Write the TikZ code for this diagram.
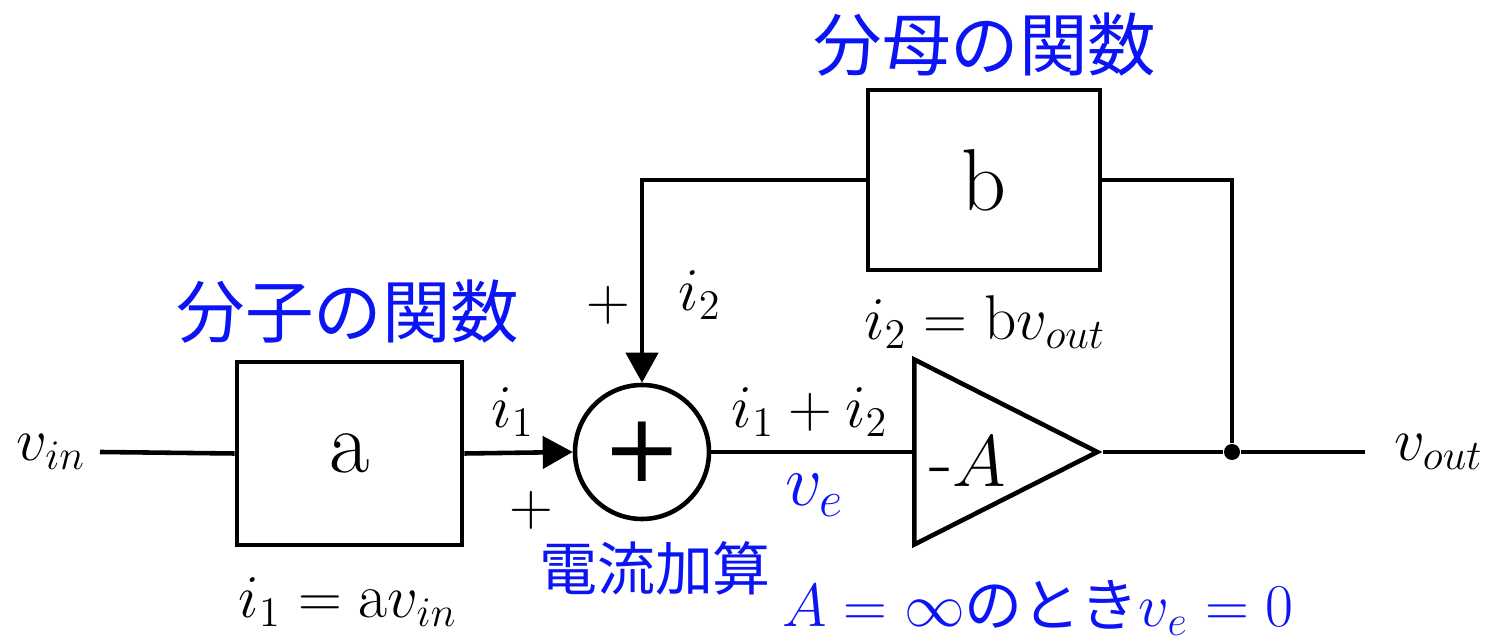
\documentclass[tikz,border=0pt]{standalone}
\usepackage{amsmath,amssymb}
\usepackage{fontspec}
\newfontfamily\jpfont{Noto Sans CJK JP}
\newfontfamily\symfont{DejaVu Sans}
\usepackage{tikz}
\usetikzlibrary{shapes.geometric,arrows.meta,positioning,calc}
\usepackage{xcolor}
\definecolor{jpblue}{RGB}{10,20,245}
\tikzset{
  blockbox/.style = {rectangle, draw, line width=1.3pt, minimum width=2.25cm,
    minimum height=1.83cm, inner sep=0pt, font=\fontsize{25}{28}\selectfont},
  sumnode/.style = {circle, draw, line width=1.3pt, minimum size=1.34cm, inner sep=0pt,
    font=\symfont\fontsize{27}{27}\selectfont},
  ampnode/.style = {isosceles triangle, isosceles triangle stretches, draw, line width=1.3pt,
    minimum width=1.85cm, minimum height=1.83cm, inner sep=0pt},
  mathlbl/.style = {font=\fontsize{18}{20}\selectfont, inner sep=1pt},
  sgnlbl/.style = {font=\fontsize{17}{18}\selectfont, inner sep=1pt},
  jplbl/.style = {font=\jpfont\fontsize{19.5}{22}\selectfont, text=jpblue, inner sep=1pt},
  jpsmall/.style = {font=\jpfont\fontsize{16.5}{20}\selectfont, text=jpblue, inner sep=1pt},
  wire/.style = {line width=1.3pt},
  arrow/.style = {line width=1.3pt, -{Triangle[length=3mm, width=3.2mm]}}
}

\begin{document}
\begin{tikzpicture}
\useasboundingbox (0,0) rectangle (14.95,-6.42);

\node[blockbox] (a) at (3.495,-4.535) {a};
\node[sumnode] (sum) at (6.42,-4.52) {+};
\node[ampnode, anchor=lower side] (amp) at (9.12,-4.52) {};
\node[blockbox, minimum width=2.32cm, minimum height=1.80cm] (b) at (9.84,-1.80) {b};
\node[circle, fill, inner sep=0pt, minimum size=0.16cm] (dot) at (12.32,-4.52) {};

\coordinate (in) at (1.0,-4.52);
\coordinate (out) at (13.65,-4.52);

\node[mathlbl, anchor=east] (vin) at ([xshift=-0.1cm]in) {$v_{in}$};
\node[mathlbl, anchor=west] (vout) at ([xshift=0.25cm]out) {$v_{out}$};
\node[font=\fontsize{22}{26}\selectfont, anchor=west] (ampA) at ([xshift=0.05cm,yshift=-0.1cm]amp.lower side) {-$A$};

% connections
\draw[wire] (in) -- (a.west);
\draw[arrow] (a.east) -- (sum.west);
\draw[wire] (sum.east) -- (amp.lower side);
\draw[wire] (amp.apex) -- (dot) -- (out);
\draw[wire] (dot) |- (b.east);
\draw[arrow] (b.west) -| (sum.north);

% labels
\node[mathlbl] (li1) at (5.13,-4.12) {$i_1$};
\node[sgnlbl] (p1) at (5.31,-5.10) {$+$};
\node[sgnlbl] (p2) at (6.08,-3.05) {$+$};
\node[mathlbl] (li2) at (7.00,-2.95) {$i_2$};
\node[mathlbl] (lsum) at (8.10,-4.12) {$i_1 + i_2$};
\node[mathlbl, text=jpblue, font=\fontsize{21}{22}\selectfont] (ve) at (8.15,-4.95) {$v_e$};
\node[mathlbl] (eqa) at (3.48,-6.02) {$i_1 = \mathrm{a}v_{in}$};
\node[mathlbl] (eqb) at (9.85,-3.22) {$i_2 = \mathrm{b}v_{out}$};
\node[jplbl] (num) at (3.48,-3.12) {分子の関数};
\node[jplbl] (den) at (9.85,-0.45) {分母の関数};
\node[jpsmall] (add) at (6.55,-5.68) {電流加算};
\node[jpsmall, font=\fontsize{17.5}{20}\selectfont] (cond) at (10.38,-6.08)
  {$A = \infty$\jpfont\fontsize{16.5}{20}\selectfont のとき$v_e = 0$};

\end{tikzpicture}
\end{document}
